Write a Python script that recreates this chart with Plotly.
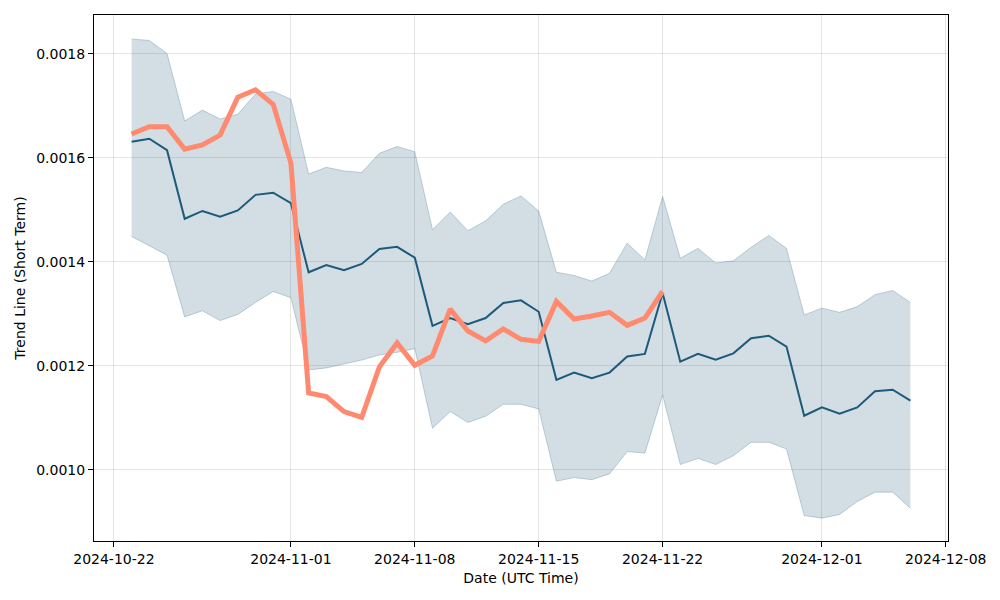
import plotly.graph_objects as go
import pandas as pd

dates = pd.date_range("2024-10-23", "2024-12-06", freq="D")

trend = [0.001631, 0.001637, 0.001615, 0.001483, 0.001498, 0.001487, 0.001499, 0.001529, 0.001533, 0.001513,
         0.001380, 0.001394, 0.001384, 0.001396, 0.001425, 0.001429, 0.001408, 0.001277, 0.001292, 0.001280,
         0.001292, 0.001321, 0.001326, 0.001304, 0.001173, 0.001187, 0.001176, 0.001187, 0.001218, 0.001223,
         0.001340, 0.001208, 0.001223, 0.001212, 0.001224, 0.001253, 0.001258, 0.001237, 0.001104, 0.001120,
         0.001108, 0.001120, 0.001151, 0.001154, 0.001133]

upper = [0.001829, 0.001826, 0.001801, 0.001671, 0.001692, 0.001675, 0.001684, 0.001723, 0.001728, 0.001713,
         0.001569, 0.001582, 0.001575, 0.001572, 0.001609, 0.001622, 0.001612, 0.001462, 0.001496, 0.001460,
         0.001479, 0.001511, 0.001527, 0.001498, 0.001380, 0.001374, 0.001363, 0.001378, 0.001436, 0.001404,
         0.001526, 0.001407, 0.001426, 0.001398, 0.001402, 0.001428, 0.001451, 0.001426, 0.001298, 0.001311,
         0.001303, 0.001314, 0.001337, 0.001345, 0.001322]

lower = [0.001449, 0.001431, 0.001413, 0.001294, 0.001306, 0.001287, 0.001299, 0.001322, 0.001343, 0.001331,
         0.001192, 0.001196, 0.001204, 0.001211, 0.001221, 0.001226, 0.001233, 0.001080, 0.001112, 0.001091,
         0.001103, 0.001126, 0.001126, 0.001117, 0.000978, 0.000985, 0.000981, 0.000992, 0.001035, 0.001032,
         0.001144, 0.001010, 0.001022, 0.001010, 0.001027, 0.001053, 0.001053, 0.001040, 0.000912, 0.000907,
         0.000914, 0.000939, 0.000957, 0.000957, 0.000926]

actual = [0.001646, 0.001660, 0.001660, 0.001617, 0.001625, 0.001644, 0.001717, 0.001731, 0.001703, 0.001590,
          0.001148, 0.001141, 0.001112, 0.001101, 0.001198, 0.001244, 0.001201, 0.001219, 0.001309, 0.001267,
          0.001248, 0.001271, 0.001251, 0.001247, 0.001324, 0.001290, 0.001296, 0.001303, 0.001278, 0.001292,
          0.001343]
actual_dates = dates[:len(actual)]

tick_vals = ["2024-10-22", "2024-11-01", "2024-11-08", "2024-11-15", "2024-11-22", "2024-12-01", "2024-12-08"]
y_ticks = [0.0010, 0.0012, 0.0014, 0.0016, 0.0018]

band_edge = "rgba(31,90,122,0.25)"
fig = go.Figure()
fig.add_trace(go.Scatter(x=dates, y=upper, mode="lines", line=dict(color=band_edge, width=1),
                         showlegend=False, hoverinfo="skip"))
fig.add_trace(go.Scatter(x=dates, y=lower, mode="lines", line=dict(color=band_edge, width=1),
                         fill="tonexty", fillcolor="rgba(31,90,122,0.2)", showlegend=False, hoverinfo="skip"))
fig.add_trace(go.Scatter(x=dates, y=trend, mode="lines", line=dict(color="#1d5a7a", width=2),
                         showlegend=False))
fig.add_trace(go.Scatter(x=actual_dates, y=actual, mode="lines", line=dict(color="#ff8a70", width=5),
                         showlegend=False))

font = dict(family="DejaVu Sans", size=14, color="black")
fig.update_layout(
    width=992, height=592,
    margin=dict(l=86, r=52, t=7, b=59),
    plot_bgcolor="white", paper_bgcolor="white",
    font=font,
)
fig.update_xaxes(
    range=["2024-10-20 21:00", "2024-12-08 03:00"],
    tickvals=tick_vals, ticktext=tick_vals,
    showgrid=True, gridcolor="rgba(0,0,0,0.1)", gridwidth=1,
    showline=True, linecolor="black", linewidth=1, mirror=True,
    ticks="outside", ticklen=5, tickcolor="black",
    title=dict(text="Date (UTC Time)", font=font, standoff=7),
    zeroline=False,
)
fig.update_yaxes(
    range=[0.000863, 0.001875],
    tickvals=y_ticks, ticktext=[f"{v:.4f}" for v in y_ticks],
    showgrid=True, gridcolor="rgba(0,0,0,0.1)", gridwidth=1,
    showline=True, linecolor="black", linewidth=1, mirror=True,
    ticks="outside", ticklen=5, tickcolor="black",
    title=dict(text="Trend Line (Short Term)", font=font, standoff=7),
    zeroline=False,
)
fig.write_html("out.html")
